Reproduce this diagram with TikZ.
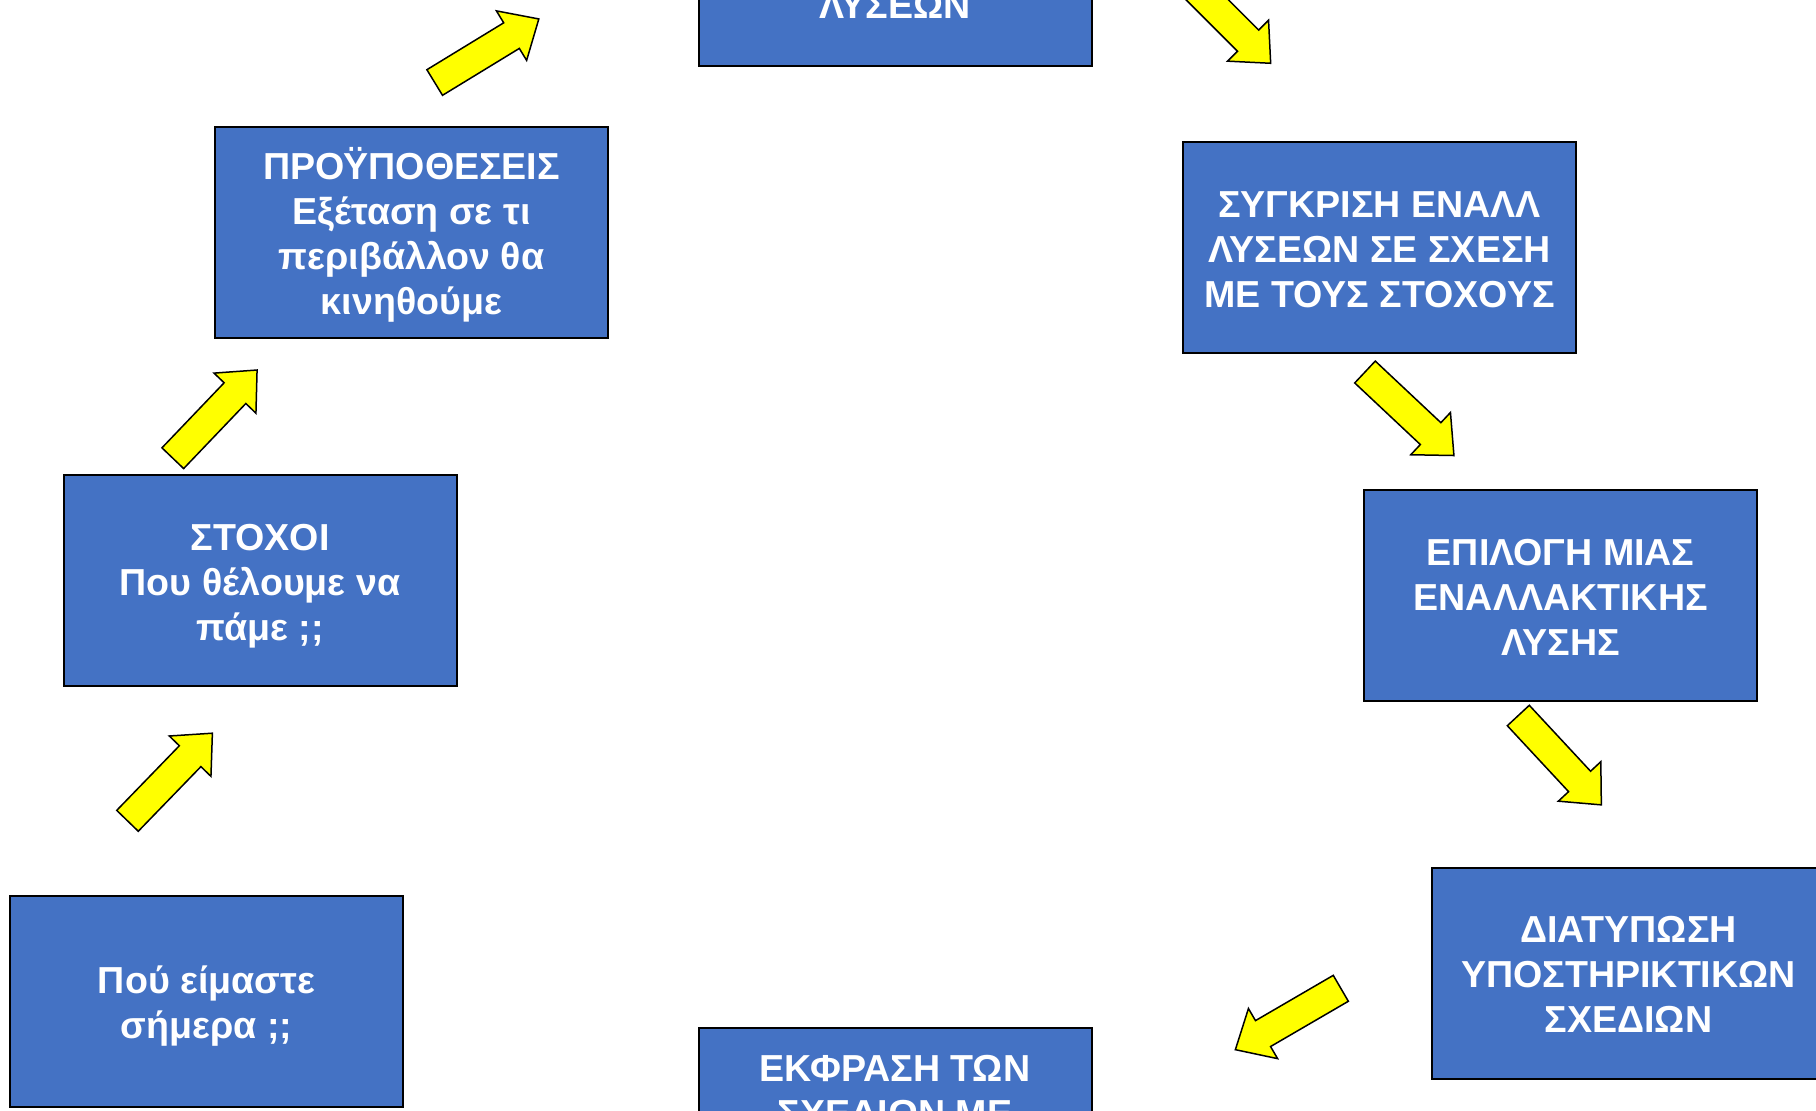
\documentclass[tikz,border=0pt]{standalone}
\usepackage{fontspec}
\setmainfont{Liberation Sans}
\definecolor{boxblue}{HTML}{4472C4}
\definecolor{arrowyellow}{HTML}{FFFF00}
\newcommand\yarrow[3]{%
  \begin{scope}[shift={(#1,#2)}, rotate=#3]
    \draw[yarr] (0,-15) -- (90,-15) -- (90,-29) -- (122,0) -- (90,29) -- (90,15) -- (0,15) -- cycle;
  \end{scope}}
\begin{document}
\begin{tikzpicture}[x=0.5pt,y=-0.5pt,
  btext/.style={text=white, font=\bfseries\fontsize{18.8}{22.5}\selectfont, align=center, inner sep=0pt},
  box/.style={draw=black, line width=1pt, fill=boxblue, minimum width=196.5pt, minimum height=105.5pt, inner sep=0pt},
  yarr/.style={draw=black, line width=0.75pt, fill=arrowyellow, line join=miter}]
\useasboundingbox (0,0) rectangle (1816,1110);
\clip (0,0) rectangle (1816,1110);

\node[box] (cur) at (206.5,1001) {};
\node[btext] (curt) at (206.5,1005.6) {Πού είμαστε\\σήμερα ;;};
\node[box] (goals) at (260,580.5) {};
\node[btext] (goalst) at (260,586.5) {ΣΤΟΧΟΙ\\Που θέλουμε να\\πάμε ;;};
\node[box] (cond) at (411.5,232.5) {};
\node[btext] (condt) at (411.5,234.8) {ΠΡΟΫΠΟΘΕΣΕΙΣ\\Εξέταση σε τι\\περιβάλλον θα\\κινηθούμε};
\node[box] (alts) at (895,-39.5) {};
\node[btext, anchor=base] (altst) at (895,18.3) {ΛΥΣΕΩΝ};
\node[box] (comp) at (1379.5,247.5) {};
\node[btext] (compt) at (1379.5,249.8) {ΣΥΓΚΡΙΣΗ ΕΝΑΛΛ\\ΛΥΣΕΩΝ ΣΕ ΣΧΕΣΗ\\ΜΕ ΤΟΥΣ ΣΤΟΧΟΥΣ};
\node[box] (sel) at (1560.7,595.3) {};
\node[btext] (selt) at (1560.7,597.6) {ΕΠΙΛΟΓΗ ΜΙΑΣ\\ΕΝΑΛΛΑΚΤΙΚΗΣ\\ΛΥΣΗΣ};
\node[box] (plan) at (1628.5,973) {};
\node[btext] (plant) at (1628.5,974.5) {ΔΙΑΤΥΠΩΣΗ\\ΥΠΟΣΤΗΡΙΚΤΙΚΩΝ\\ΣΧΕΔΙΩΝ};
\node[box] (expr) at (895,1133.5) {};
\node[btext, anchor=base] (exprt1) at (895,1081.7) {ΕΚΦΡΑΣΗ ΤΩΝ};
\node[btext, anchor=base] (exprt2) at (895,1126.7) {ΣΧΕΔΙΩΝ ΜΕ};

\yarrow{127.5}{820.8}{45.9}
\yarrow{172.8}{458.2}{46.3}
\yarrow{434.7}{82.5}{31.4}
\yarrow{1184.4}{-23}{-45}
\yarrow{1365}{372}{-43.2}
\yarrow{1518.3}{715.5}{-47.1}
\yarrow{1340.8}{988.3}{210.2}
\end{tikzpicture}
\end{document}
